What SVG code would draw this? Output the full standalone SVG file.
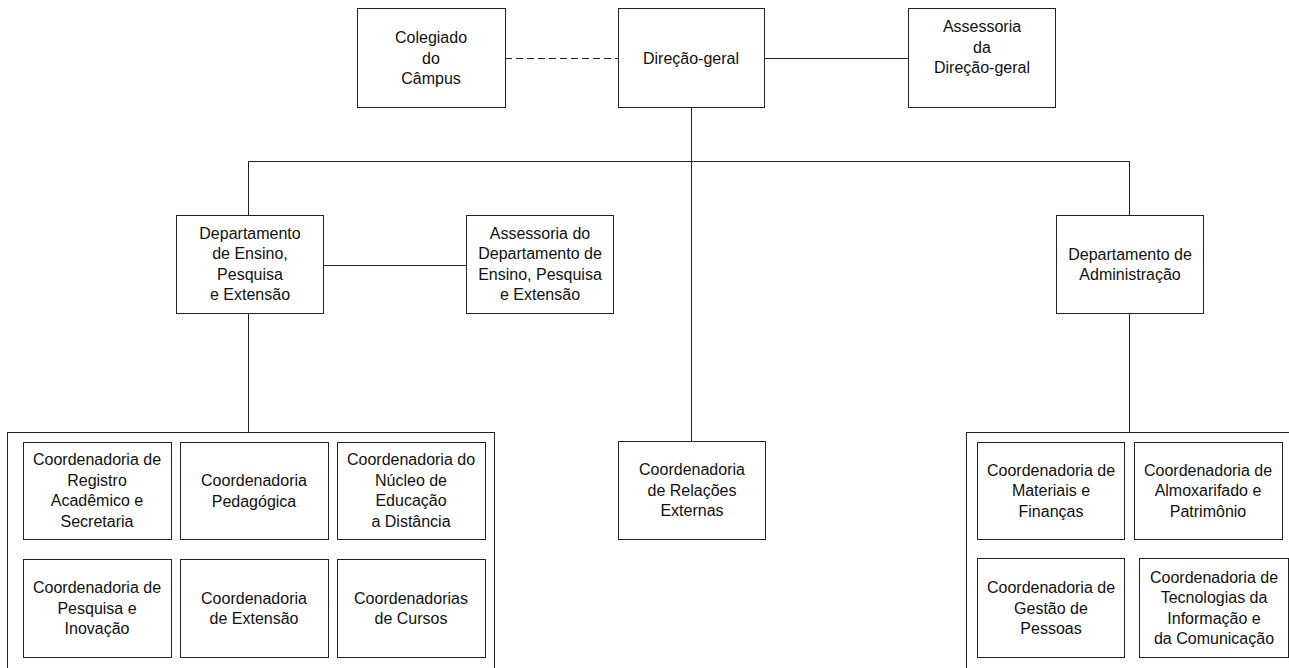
<svg xmlns="http://www.w3.org/2000/svg" width="1289" height="668" viewBox="0 0 1289 668">
<style>
.box{fill:#fff;stroke:#222;stroke-width:1}
.cont{fill:none;stroke:#222;stroke-width:1}
.ln{fill:none;stroke:#222;stroke-width:1}
.dash{stroke-dasharray:7,4}
text{font-family:"Liberation Sans",Arial,sans-serif;font-size:16px;fill:#111;text-anchor:middle}
</style>
<rect width="1289" height="668" fill="#fff"/>
<g id="connectors">
<line class="ln dash" x1="505" y1="58.5" x2="618" y2="58.5"/>
<line class="ln" x1="765" y1="58.5" x2="908" y2="58.5"/>
<line class="ln" x1="691.5" y1="107" x2="691.5" y2="441"/>
<line class="ln" x1="248.5" y1="161.5" x2="1130" y2="161.5"/>
<line class="ln" x1="248.5" y1="161" x2="248.5" y2="215"/>
<line class="ln" x1="248.5" y1="313" x2="248.5" y2="432"/>
<line class="ln" x1="323" y1="265.5" x2="466" y2="265.5"/>
<line class="ln" x1="1129.5" y1="161" x2="1129.5" y2="215"/>
<line class="ln" x1="1129.5" y1="313" x2="1129.5" y2="432"/>
</g>
<g id="container-ensino"><rect class="cont" x="7.5" y="432.5" width="487" height="300"/></g>
<g id="container-adm"><rect class="cont" x="966.5" y="432.5" width="400" height="300"/></g>
<g id="colegiado"><rect class="box" x="357.5" y="8.5" width="148" height="99"/>
<text x="431" y="43">Colegiado</text><text x="431" y="63.5">do</text><text x="431" y="84">Câmpus</text></g>
<g id="direcao"><rect class="box" x="618.5" y="8.5" width="146" height="99"/>
<text x="691" y="64">Direção-geral</text></g>
<g id="assessoria-dg"><rect class="box" x="908.5" y="8.5" width="147" height="99"/>
<text x="982" y="32">Assessoria</text><text x="982" y="52.5">da</text><text x="982" y="73">Direção-geral</text></g>
<g id="dept-ensino"><rect class="box" x="176.5" y="215.5" width="147" height="98"/>
<text x="250" y="238.5">Departamento</text><text x="250" y="259">de Ensino,</text><text x="250" y="279.5">Pesquisa</text><text x="250" y="300">e Extensão</text></g>
<g id="assessoria-dept"><rect class="box" x="466.5" y="215.5" width="147" height="98"/>
<text x="540" y="238.5">Assessoria do</text><text x="540" y="259">Departamento de</text><text x="540" y="279.5">Ensino, Pesquisa</text><text x="540" y="300">e Extensão</text></g>
<g id="dept-adm"><rect class="box" x="1056.5" y="215.5" width="147" height="98"/>
<text x="1130" y="259.5">Departamento de</text><text x="1130" y="280">Administração</text></g>
<g id="relacoes"><rect class="box" x="618.5" y="441.5" width="147" height="98"/>
<text x="692" y="475">Coordenadoria</text><text x="692" y="495.5">de Relações</text><text x="692" y="516">Externas</text></g>
<g id="registro"><rect class="box" x="23.5" y="442.5" width="148" height="97"/>
<text x="97" y="465">Coordenadoria de</text><text x="97" y="485.5">Registro</text><text x="97" y="506">Acadêmico e</text><text x="97" y="526.5">Secretaria</text></g>
<g id="pedagogica"><rect class="box" x="180.5" y="442.5" width="148" height="97"/>
<text x="254" y="486">Coordenadoria</text><text x="254" y="506.5">Pedagógica</text></g>
<g id="nead"><rect class="box" x="337.5" y="442.5" width="148" height="97"/>
<text x="411" y="465">Coordenadoria do</text><text x="411" y="485.5">Núcleo de</text><text x="411" y="506">Educação</text><text x="411" y="526.5">a Distância</text></g>
<g id="pesquisa"><rect class="box" x="23.5" y="559.5" width="148" height="98"/>
<text x="97" y="593">Coordenadoria de</text><text x="97" y="613.5">Pesquisa e</text><text x="97" y="634">Inovação</text></g>
<g id="extensao"><rect class="box" x="180.5" y="559.5" width="148" height="98"/>
<text x="254" y="603.5">Coordenadoria</text><text x="254" y="624">de Extensão</text></g>
<g id="cursos"><rect class="box" x="337.5" y="559.5" width="148" height="98"/>
<text x="411" y="603.5">Coordenadorias</text><text x="411" y="624">de Cursos</text></g>
<g id="materiais"><rect class="box" x="977.5" y="442.5" width="147" height="97"/>
<text x="1051" y="475.5">Coordenadoria de</text><text x="1051" y="496">Materiais e</text><text x="1051" y="516.5">Finanças</text></g>
<g id="almoxarifado"><rect class="box" x="1134.5" y="442.5" width="148" height="97"/>
<text x="1208" y="475.5">Coordenadoria de</text><text x="1208" y="496">Almoxarifado e</text><text x="1208" y="516.5">Patrimônio</text></g>
<g id="gestao"><rect class="box" x="977.5" y="558.5" width="147" height="99"/>
<text x="1051" y="593">Coordenadoria de</text><text x="1051" y="613.5">Gestão de</text><text x="1051" y="634">Pessoas</text></g>
<g id="tecnologias"><rect class="box" x="1139.5" y="558.5" width="149" height="99"/>
<text x="1214" y="582.5">Coordenadoria de</text><text x="1214" y="603">Tecnologias da</text><text x="1214" y="623.5">Informação e</text><text x="1214" y="644">da Comunicação</text></g>
</svg>
